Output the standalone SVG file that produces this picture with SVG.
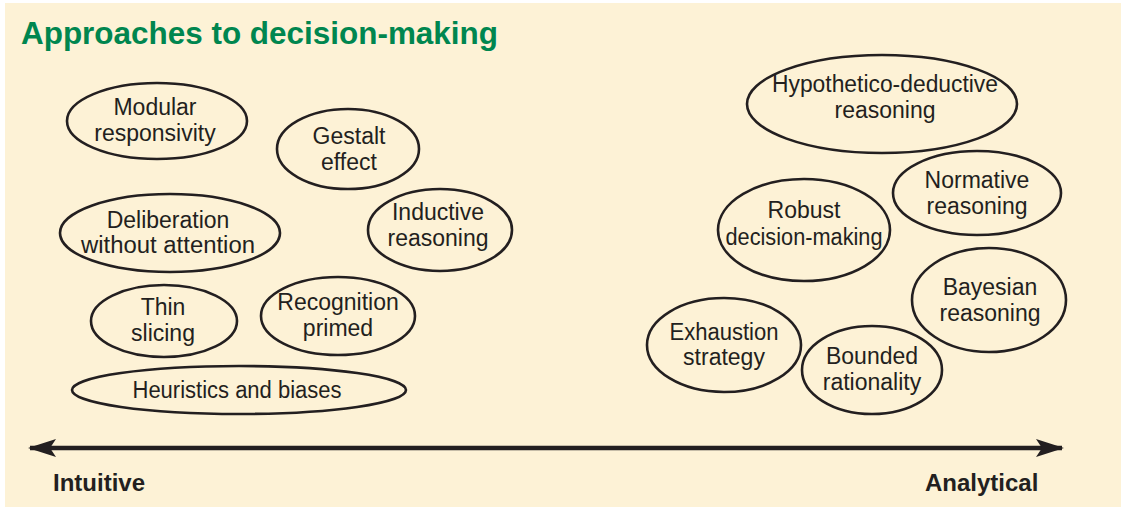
<svg xmlns="http://www.w3.org/2000/svg" width="1121" height="510" viewBox="0 0 1121 510">
  <style>
    .node ellipse { fill: none; stroke: #231f20; stroke-width: 2.6; }
    .node text { font-family: "Liberation Sans", Arial, sans-serif; font-size: 23px; fill: #231f20; text-anchor: middle; }
    .title { font-family: "Liberation Sans", Arial, sans-serif; font-size: 31px; font-weight: bold; fill: #00864f; }
    .axis-label { font-family: "Liberation Sans", Arial, sans-serif; font-size: 24px; font-weight: bold; fill: #231f20; }
  </style>
  <defs>
    <marker id="arrow" viewBox="0 0 28 20" refX="26" refY="10" markerWidth="28" markerHeight="20" markerUnits="userSpaceOnUse" orient="auto-start-reverse">
      <path d="M0,1 L28,10 L0,19 L6,10 Z" fill="#231f20"/>
    </marker>
  </defs>

  <!-- panel -->
  <rect x="0" y="0" width="1121" height="510" fill="#ffffff"/>
  <rect x="5" y="3" width="1116" height="504" fill="#fdf2d6"/>

  <text class="title" x="21" y="44" textLength="477" lengthAdjust="spacingAndGlyphs">Approaches to decision-making</text>

  <!-- intuitive cluster -->
  <g id="modular-responsivity" class="node">
    <ellipse cx="157" cy="121" rx="90" ry="38"/>
    <text x="155" y="115">Modular</text>
    <text x="155" y="141">responsivity</text>
  </g>
  <g id="gestalt-effect" class="node">
    <ellipse cx="348" cy="149" rx="71" ry="40"/>
    <text x="349" y="144">Gestalt</text>
    <text x="349" y="170">effect</text>
  </g>
  <g id="deliberation-without-attention" class="node">
    <ellipse cx="170" cy="233" rx="110" ry="39"/>
    <text x="168" y="228">Deliberation</text>
    <text x="168" y="253" textLength="174" lengthAdjust="spacingAndGlyphs">without attention</text>
  </g>
  <g id="inductive-reasoning" class="node">
    <ellipse cx="440" cy="230" rx="72" ry="41"/>
    <text x="438" y="220">Inductive</text>
    <text x="438" y="246">reasoning</text>
  </g>
  <g id="thin-slicing" class="node">
    <ellipse cx="164" cy="321" rx="73" ry="36"/>
    <text x="163" y="315">Thin</text>
    <text x="163" y="341">slicing</text>
  </g>
  <g id="recognition-primed" class="node">
    <ellipse cx="338" cy="316" rx="77" ry="39"/>
    <text x="338" y="310">Recognition</text>
    <text x="338" y="336">primed</text>
  </g>
  <g id="heuristics-and-biases" class="node">
    <ellipse cx="239" cy="390" rx="167" ry="24"/>
    <text x="237" y="398" textLength="209" lengthAdjust="spacingAndGlyphs">Heuristics and biases</text>
  </g>

  <!-- analytical cluster -->
  <g id="hypothetico-deductive-reasoning" class="node">
    <ellipse cx="882" cy="104" rx="135" ry="49"/>
    <text x="885" y="92" textLength="226" lengthAdjust="spacingAndGlyphs">Hypothetico-deductive</text>
    <text x="885" y="118">reasoning</text>
  </g>
  <g id="normative-reasoning" class="node">
    <ellipse cx="977" cy="193" rx="84" ry="42"/>
    <text x="977" y="188">Normative</text>
    <text x="977" y="214">reasoning</text>
  </g>
  <g id="robust-decision-making" class="node">
    <ellipse cx="804" cy="230" rx="86" ry="51"/>
    <text x="804" y="218">Robust</text>
    <text x="804" y="245" textLength="157" lengthAdjust="spacingAndGlyphs">decision-making</text>
  </g>
  <g id="bayesian-reasoning" class="node">
    <ellipse cx="989" cy="300" rx="77" ry="52"/>
    <text x="990" y="295">Bayesian</text>
    <text x="990" y="321">reasoning</text>
  </g>
  <g id="exhaustion-strategy" class="node">
    <ellipse cx="724" cy="345" rx="77" ry="47"/>
    <text x="724" y="340" textLength="109" lengthAdjust="spacingAndGlyphs">Exhaustion</text>
    <text x="724" y="365">strategy</text>
  </g>
  <g id="bounded-rationality" class="node">
    <ellipse cx="872" cy="370" rx="70" ry="44"/>
    <text x="872" y="364">Bounded</text>
    <text x="872" y="390">rationality</text>
  </g>

  <!-- intuitive–analytical axis -->
  <g id="connectors">
    <line x1="30" y1="448" x2="1062" y2="448" stroke="#231f20" stroke-width="4.5" marker-start="url(#arrow)" marker-end="url(#arrow)"/>
  </g>
  <text class="axis-label" x="53" y="491">Intuitive</text>
  <text class="axis-label" x="925" y="491">Analytical</text>
</svg>
